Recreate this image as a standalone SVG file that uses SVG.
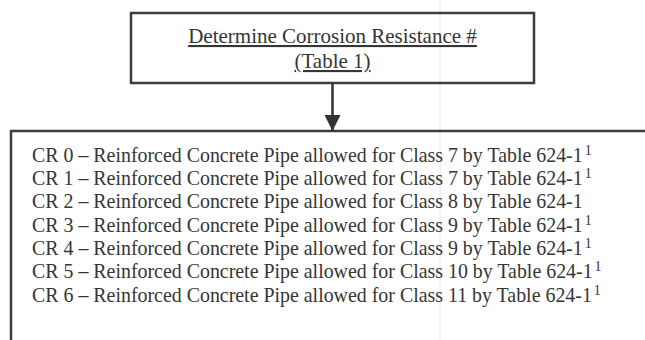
<svg xmlns="http://www.w3.org/2000/svg" width="645" height="340" viewBox="0 0 645 340">
  <style>
    .box { fill: none; stroke: #3c3c3c; stroke-width: 2.5; }
    .title { font-family: "Liberation Serif", "Times New Roman", serif; font-size: 21px; fill: #353535; text-anchor: middle; text-decoration: underline; }
    .item { font-family: "Liberation Serif", "Times New Roman", serif; font-size: 19.9px; fill: #353535; }
    .sup { font-size: 14px; }
    .link { stroke: #333; stroke-width: 2.5; fill: none; }
  </style>
  <defs>
    <marker id="arrow" viewBox="0 0 16 16" refX="16" refY="8" markerWidth="16" markerHeight="16" markerUnits="userSpaceOnUse" orient="auto">
      <path d="M0,0 L16,8 L0,16 Z" fill="#333"/>
    </marker>
  </defs>
  <rect width="645" height="340" fill="#fff"/>

  <!-- faint vertical crease across the sheet -->
  <line x1="440" y1="0" x2="440" y2="340" stroke="#e6e6e6" stroke-width="1"/>

  <g id="node-determine">
    <rect class="box" x="131" y="13" width="403" height="70"/>
    <text class="title" x="332.5" y="43">Determine Corrosion Resistance #</text>
    <text class="title" x="332.5" y="68">(Table 1)</text>
  </g>

  <g id="node-classes">
    <path class="box" d="M647,131 H11 V342"/>
    <text class="item" x="32" y="161.7">CR 0 – Reinforced Concrete Pipe allowed for Class 7 by Table 624-1<tspan class="sup" dx="2" dy="-7">1</tspan></text>
    <text class="item" x="32" y="185">CR 1 – Reinforced Concrete Pipe allowed for Class 7 by Table 624-1<tspan class="sup" dx="2" dy="-7">1</tspan></text>
    <text class="item" x="32" y="208.3">CR 2 – Reinforced Concrete Pipe allowed for Class 8 by Table 624-1</text>
    <text class="item" x="32" y="231.7">CR 3 – Reinforced Concrete Pipe allowed for Class 9 by Table 624-1<tspan class="sup" dx="2" dy="-7">1</tspan></text>
    <text class="item" x="32" y="255">CR 4 – Reinforced Concrete Pipe allowed for Class 9 by Table 624-1<tspan class="sup" dx="2" dy="-7">1</tspan></text>
    <text class="item" x="32" y="278.3">CR 5 – Reinforced Concrete Pipe allowed for Class 10 by Table 624-1<tspan class="sup" dx="2" dy="-7">1</tspan></text>
    <text class="item" x="32" y="301.7">CR 6 – Reinforced Concrete Pipe allowed for Class 11 by Table 624-1<tspan class="sup" dx="2" dy="-7">1</tspan></text>
  </g>

  <g id="connectors">
    <line class="link" x1="332.5" y1="84" x2="332.5" y2="131" marker-end="url(#arrow)"/>
  </g>
</svg>
